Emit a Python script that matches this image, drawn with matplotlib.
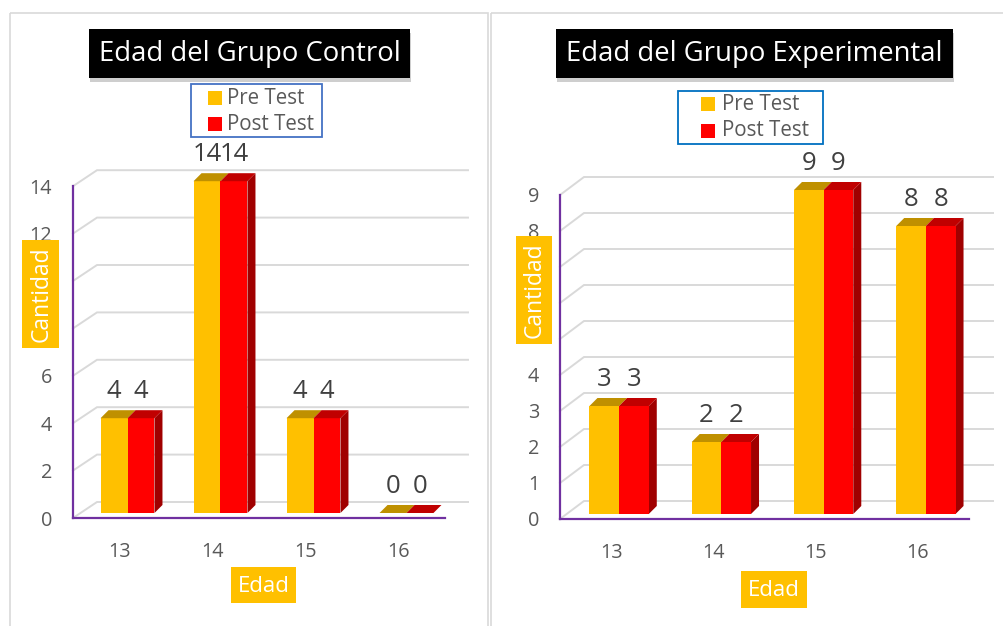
import matplotlib
matplotlib.use("Agg")
import matplotlib.pyplot as plt
import matplotlib.patheffects as pe
from matplotlib.patches import Rectangle, Polygon
from matplotlib.transforms import Affine2D

plt.rcParams['font.family'] = ['Open Sans', 'DejaVu Sans']

# data
edades = ['13', '14', '15', '16']
series_names = ['Pre Test', 'Post Test']
control_pre = [4, 14, 4, 0]
control_post = [4, 14, 4, 0]
exp_pre = [3, 2, 9, 8]
exp_post = [3, 2, 9, 8]
control_ticks = [0, 2, 4, 6, 8, 10, 12, 14]
exp_ticks = [0, 1, 2, 3, 4, 5, 6, 7, 8, 9]
# tick labels hidden behind the "Cantidad" box in the original
control_hidden = [8, 10]
exp_hidden = [5, 6, 7]

W, H = 1004, 626
fig = plt.figure(figsize=(W / 100, H / 100), dpi=100)
pix = Affine2D().scale(1, -1).translate(0, H)  # pixel coords, origin top-left

YELLOW, YELLOW_TOP = '#FFC000', '#BF9000'
RED, RED_TOP, RED_SIDE = '#FF0000', '#C00000', '#A00000'
GRID, PURPLE, TXT, LABEL = '#D9D9D9', '#7030A0', '#595959', '#404040'


def box(x0, y0, x1, y1, **kw):
    r = Rectangle((x0, y0), x1 - x0, y1 - y0, transform=pix, **kw)
    fig.patches.append(r)
    return r


def ptext(x, y, s, **kw):
    fig.text(x, y, s, transform=pix, **kw)


def draw_panel(title, pre, post, ticks, hidden, frame, tbox, lbox, lsq_x, lsq_y, ltxt_x,
               lcolor, L, front_w, R, B, T, ppy, wall_dy, cant, edad):
    # outer frame
    box(frame[0], frame[1], frame[2], frame[3], fill=False, ec=GRID, lw=1.2)

    # title in black box with soft shadow
    tb = box(*tbox, fc='black', ec='none', zorder=3)
    tb.set_path_effects([pe.SimplePatchShadow(offset=(1, -3), shadow_rgbFace='0.45', alpha=0.35),
                         pe.Normal()])
    ptext((tbox[0] + tbox[2]) / 2, (tbox[1] + tbox[3]) / 2 + 1, title, color='white',
          fontsize=19.8, ha='center', va='center', zorder=4)

    # legend
    box(*lbox, fill=False, ec=lcolor, lw=1.3)
    for name, col, sy in zip(series_names, [YELLOW, RED], lsq_y):
        box(lsq_x, sy, lsq_x + 14, sy + 14, fc=col, ec='none')
        ptext(ltxt_x, sy + 7, name, color=TXT, fontsize=14.8, ha='left', va='center')

    # plot area
    ax = fig.add_axes([L / W, 1 - B / H, (R - L) / W, (B - T) / H])
    ax.set_facecolor('none')
    ppx = front_w / 4
    xmax = 3.5 + (R - L - front_w) / ppx
    ax.set_xlim(-0.5, xmax)
    ax.set_ylim(0, (B - T) / ppy)
    for s in ax.spines.values():
        s.set_visible(False)

    dx, dy = 24 / ppx, wall_dy / ppy
    for v in ticks:
        ax.plot([-0.5, -0.5 + dx, xmax], [v, v + dy, v + dy], color=GRID, lw=1.4,
                zorder=1, clip_on=False, solid_joinstyle='miter')
    ax.plot([-0.5, -0.5], [0, ticks[-1]], color=PURPLE, lw=1.6, zorder=2, clip_on=False)
    ax.plot([-0.5, 3.5], [0, 0], color=PURPLE, lw=1.6, zorder=2, clip_on=False)

    bw = 0.29
    sx, sy = 8 / ppx, 5 / ppy
    ddx, ddy = 8 / ppx, 8 / ppy
    for i in range(len(edades)):
        for k, (vals, front, top, side) in enumerate([(pre, YELLOW, YELLOW_TOP, None),
                                                      (post, RED, RED_TOP, RED_SIDE)]):
            v = vals[i]
            x0 = i + sx - bw + k * bw
            if side:
                ax.add_patch(Polygon([(x0 + bw, sy), (x0 + bw + ddx, sy + ddy),
                                      (x0 + bw + ddx, sy + v + ddy), (x0 + bw, sy + v)],
                                     fc=side, ec='none', zorder=3))
            ax.add_patch(Polygon([(x0, sy), (x0 + bw, sy), (x0 + bw, sy + v), (x0, sy + v)],
                                 fc=front, ec='none', zorder=3))
            ax.add_patch(Polygon([(x0, sy + v), (x0 + bw, sy + v),
                                  (x0 + bw + ddx, sy + v + ddy), (x0 + ddx, sy + v + ddy)],
                                 fc=top, ec='none', zorder=3))
            ax.annotate(str(v), (x0 + bw / 2, sy + v + ddy), xytext=(0, 8.5),
                        textcoords='offset points', ha='center', va='baseline',
                        fontsize=18.5, color=LABEL, zorder=4)

    ax.set_yticks(ticks)
    ax.set_yticklabels(['' if t in hidden else str(t) for t in ticks])
    ax.set_xticks(range(len(edades)))
    ax.set_xticklabels(edades)
    ax.tick_params(axis='y', length=0, pad=15, labelsize=14.3, labelcolor=TXT)
    ax.tick_params(axis='x', length=0, pad=17.5, labelsize=14.3, labelcolor=TXT)

    # axis titles on yellow boxes
    box(*cant, fc=YELLOW, ec='none', zorder=5)
    ptext((cant[0] + cant[2]) / 2 + 1, (cant[1] + cant[3]) / 2, 'Cantidad', color='white',
          fontsize=16.5, rotation=90, ha='center', va='center', zorder=6)
    box(*edad, fc=YELLOW, ec='none', zorder=5)
    ptext((edad[0] + edad[2]) / 2, (edad[1] + edad[3]) / 2 + 1, 'Edad', color='white',
          fontsize=16, ha='center', va='center', zorder=6)


draw_panel('Edad del Grupo Control', control_pre, control_post, control_ticks, control_hidden,
           frame=(10, 13, 488, 660), tbox=(89, 29, 410, 78), lbox=(191, 84, 322, 137),
           lsq_x=208, lsq_y=(91, 117), ltxt_x=227, lcolor='#4472C4',
           L=73, front_w=372, R=468, B=518, T=150, ppy=23.7, wall_dy=16,
           cant=(22, 240, 59, 348), edad=(231, 567, 296, 603))

draw_panel('Edad del Grupo Experimental', exp_pre, exp_post, exp_ticks, exp_hidden,
           frame=(491, 13, 1030, 660), tbox=(556, 29, 953, 78), lbox=(678, 91, 823, 144),
           lsq_x=701, lsq_y=(97, 124), ltxt_x=722, lcolor='#0070C0',
           L=560, front_w=409, R=993, B=519, T=150, ppy=36, wall_dy=18,
           cant=(516, 236, 552, 344), edad=(741, 571, 807, 608))

fig.savefig('out.png', dpi=100)
